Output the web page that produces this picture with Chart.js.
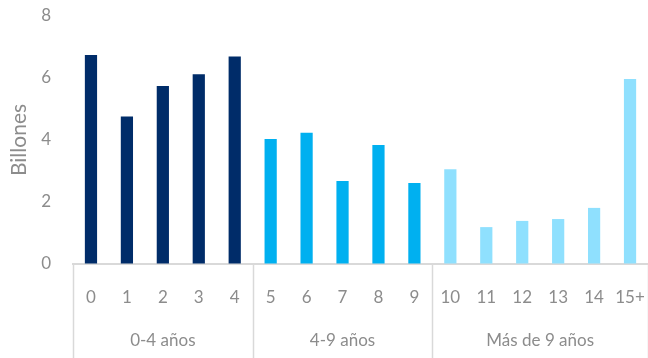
<!DOCTYPE html>
<html>
<head>
<meta charset="utf-8">
<script src="https://cdn.jsdelivr.net/npm/chart.js@4/dist/chart.umd.min.js"></script>
<style>
  html, body { margin: 0; padding: 0; background: #ffffff; }
  #wrap { width: 648px; height: 358px; position: relative; }
</style>
</head>
<body>
<div id="wrap"><canvas id="c"></canvas></div>
<script>
// Years to maturity and outstanding amounts (billones)
const categories = ['0', '1', '2', '3', '4', '5', '6', '7', '8', '9', '10', '11', '12', '13', '14', '15+'];
const values = [6.74, 4.76, 5.74, 6.12, 6.69, 4.03, 4.23, 2.68, 3.84, 2.61, 3.06, 1.19, 1.39, 1.45, 1.81, 5.97];

// Maturity buckets: label, number of categories, bar colour
const groupLabels = ['0-4 años', '4-9 años', 'Más de 9 años'];
const groupSizes = [5, 5, 6];
const groupColors = ['#002C69', '#00B0F0', '#8FE0FE'];

const yTicks = [0, 2, 4, 6, 8];

const textColor = '#8C8C8C';
const lineColor = '#D9D9D9';
const fontFamily = 'Lato, "Open Sans", sans-serif';

// one colour per bar, following its bucket
const barColors = [];
groupSizes.forEach((n, g) => { for (let i = 0; i < n; i++) barColors.push(groupColors[g]); });

// bucket separators and bucket names under the tick labels
const groupAxisPlugin = {
  id: 'groupAxis',
  afterDraw(chart) {
    const x = chart.scales.x;
    const ctx = chart.ctx;
    const top = chart.chartArea.bottom;
    const bottom = chart.height;
    ctx.save();
    ctx.strokeStyle = lineColor;
    ctx.lineWidth = 1.5;
    let start = 0;
    const bounds = [-0.5];
    groupSizes.forEach(n => { start += n; bounds.push(start - 0.5); });
    bounds.forEach(b => {
      const px = Math.round(x.getPixelForValue(b)) + 0.5;
      ctx.beginPath();
      ctx.moveTo(px, top);
      ctx.lineTo(px, bottom);
      ctx.stroke();
    });
    ctx.fillStyle = textColor;
    ctx.font = '17px ' + fontFamily;
    ctx.textAlign = 'center';
    ctx.textBaseline = 'middle';
    let s = 0;
    groupSizes.forEach((n, g) => {
      const cx = x.getPixelForValue(s + (n - 1) / 2);
      ctx.fillText(groupLabels[g], cx, 341);
      s += n;
    });
    ctx.restore();
  }
};

new Chart(document.getElementById('c'), {
  type: 'bar',
  data: {
    labels: categories,
    datasets: [{
      data: values,
      backgroundColor: barColors,
      borderWidth: 0,
      barPercentage: 0.34,
      categoryPercentage: 1.0
    }]
  },
  options: {
    responsive: true,
    maintainAspectRatio: false,
    animation: false,
    layout: { padding: { top: 16, right: 0, left: 0, bottom: 0 } },
    plugins: {
      legend: { display: false },
      tooltip: { enabled: false }
    },
    scales: {
      x: {
        grid: {
          display: true, drawOnChartArea: false, drawTicks: true,
          tickLength: 23, tickColor: 'rgba(0,0,0,0)', color: 'rgba(0,0,0,0)'
        },
        border: { display: true, color: lineColor, width: 2 },
        ticks: {
          color: textColor,
          font: { family: fontFamily, size: 17 },
          padding: 0,
          maxRotation: 0,
          autoSkip: false
        },
        afterFit(scale) { scale.height = 94; }
      },
      y: {
        min: 0,
        max: 8,
        afterBuildTicks(scale) { scale.ticks = yTicks.map(v => ({ value: v })); },
        grid: {
          display: true, drawOnChartArea: false, drawTicks: true,
          tickLength: 22, tickColor: 'rgba(0,0,0,0)', color: 'rgba(0,0,0,0)'
        },
        border: { display: false },
        ticks: {
          color: textColor,
          font: { family: fontFamily, size: 17 },
          padding: 0
        },
        title: {
          display: true,
          text: 'Billones',
          color: textColor,
          font: { family: fontFamily, size: 21 },
          padding: { top: 7, bottom: 0 }
        },
        afterFit(scale) { scale.width = 73; }
      }
    }
  },
  plugins: [groupAxisPlugin]
});
</script>
</body>
</html>
